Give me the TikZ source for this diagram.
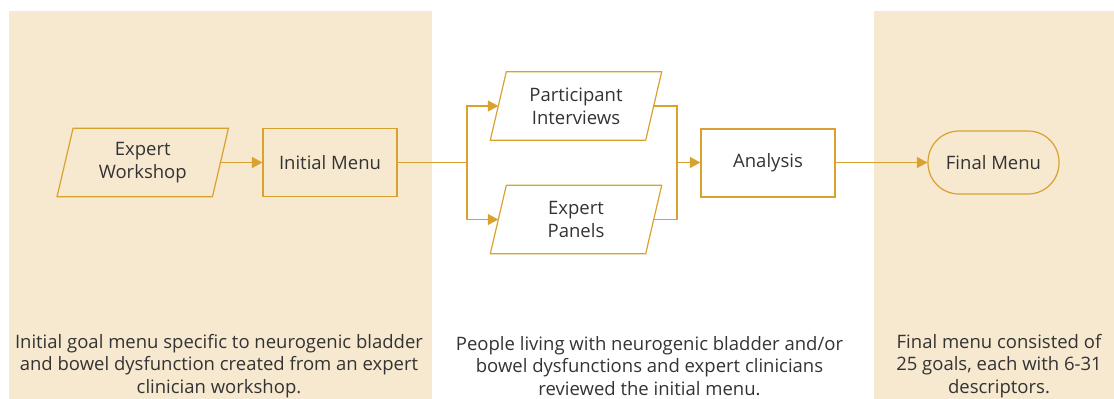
\documentclass[tikz,border=0pt]{standalone}
\usepackage{fontspec}
\setmainfont{Open Sans}
\usetikzlibrary{arrows.meta,calc}
\definecolor{panel}{HTML}{F7E8D0}
\definecolor{gold}{HTML}{D9A22E}
\definecolor{ink}{HTML}{333333}
\tikzset{
  line/.style={draw=gold, line width=1.2pt},
  flow/.style={line, -{Triangle[length=10.5pt,width=11pt]}},
  lbl/.style={text=ink, font=\fontsize{18.5}{23}\selectfont, align=center, inner sep=0pt},
  boxnode/.style={lbl, draw=gold, line width=1.2pt, minimum width=134pt, minimum height=68pt},
  paranode/.style={lbl, minimum width=155pt, minimum height=68pt},
  termnode/.style={lbl, draw=gold, line width=1.2pt, rounded corners=31pt, minimum width=131pt, minimum height=63pt},
  note/.style={text=ink, font=\fontsize{18.5}{22.5}\selectfont, align=center, inner sep=0pt}
}
\newcommand{\drawpara}[1]{%
  \draw[line] ([xshift=-8pt]#1.south west) -- ([xshift=-8pt]#1.south east)
    -- ([xshift=8pt]#1.north east) -- ([xshift=8pt]#1.north west) -- cycle;}
\begin{document}
\begin{tikzpicture}[x=1pt,y=-1pt]
\useasboundingbox (0,0) rectangle (1114,399);
\fill[panel] (9,11) rectangle (432,399);
\fill[panel] (874,11) rectangle (1114,399);

\node[paranode] (wk) at (142.75,162.5) {Expert\\Workshop};
\drawpara{wk}
\node[boxnode] (im) at (330,162.5) {Initial Menu};
\node[paranode] (pi) at (576,106) {Participant\\Interviews};
\drawpara{pi}
\node[paranode] (ep) at (576,219.5) {Expert\\Panels};
\drawpara{ep}
\node[boxnode] (an) at (768,163) {Analysis};
\node[termnode] (fm) at (993.5,162.5) {Final Menu};

\coordinate (s1) at (467,162.5);
\coordinate (j1) at (677,162.5);
\draw[flow] (wk.east) -- (im.west);
\draw[line] (im.east) -- (s1);
\draw[flow] (s1) |- (pi.west);
\draw[flow] (s1) |- (ep.west);
\draw[line] (pi.east) -| (j1);
\draw[line] (ep.east) -| (j1);
\draw[flow] (j1) -- (an.west |- j1);
\draw[flow] (an.east |- fm.west) -- (fm.west);

\node[note] (t1) at (219,366) {Initial goal menu specific to neurogenic bladder\\and bowel dysfunction created from an expert\\clinician workshop.};
\node[note] (t2) at (649.5,366) {People living with neurogenic bladder and/or\\bowel dysfunctions and expert clinicians\\reviewed the initial menu.};
\node[note] (t3) at (999,366) {Final menu consisted of\\25 goals, each with 6-31\\descriptors.};
\end{tikzpicture}
\end{document}
